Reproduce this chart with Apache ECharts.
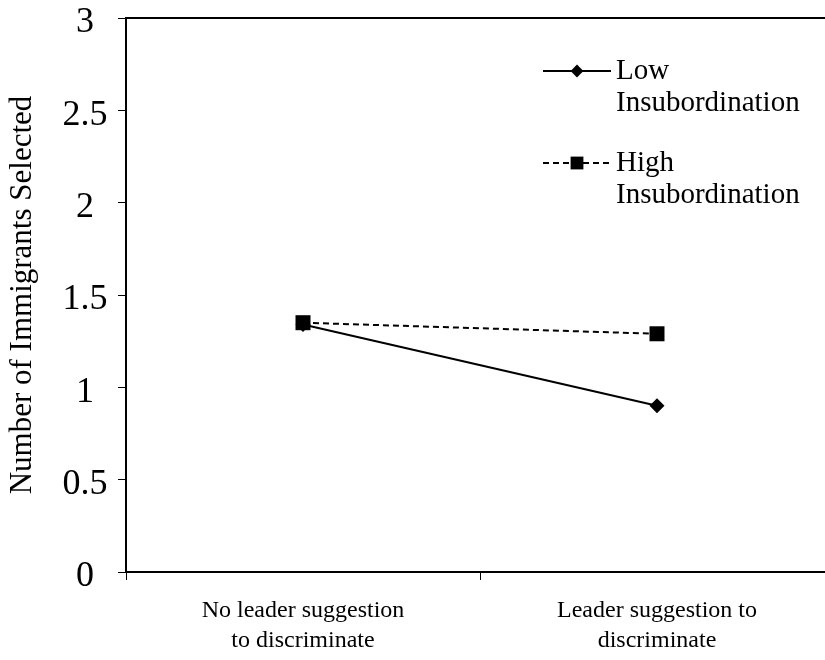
<!DOCTYPE html>
<html>
<head>
<meta charset="utf-8">
<script src="https://cdn.jsdelivr.net/npm/echarts@6/dist/echarts.min.js"></script>
<style>
  html, body { margin: 0; padding: 0; background: #fff; }
  #chart { width: 825px; height: 660px; }
</style>
</head>
<body>
<div id="chart"></div>
<script>
var categories = ['No leader suggestion\nto discriminate', 'Leader suggestion to\ndiscriminate'];
var lowName = 'Low\nInsubordination';
var highName = 'High\nInsubordination';
var lowValues = [1.34, 0.90];
var highValues = [1.35, 1.29];

var font = "'Liberation Serif', 'Times New Roman', serif";
var myChart = echarts.init(document.getElementById('chart'));

var option = {
    backgroundColor: '#fff',
    animation: false,
    grid: {
        left: 126,
        top: 18,
        bottom: 88,
        right: -9,
        outerBoundsMode: 'none',
        containLabel: false,
        show: true,
        borderColor: '#000',
        borderWidth: 2
    },
    legend: {
        orient: 'vertical',
        left: 542,
        top: 23,
        padding: 0,
        itemWidth: 68,
        itemHeight: 16,
        itemGap: -4,
        // blank first line so the icon sits beside the first text line
        formatter: function (name) {
            return '\u00a0\n' + name;
        },
        textStyle: {
            fontFamily: font,
            fontSize: 29,
            color: '#000',
            lineHeight: 32
        },
        data: [lowName, highName]
    },
    xAxis: {
        type: 'category',
        data: categories,
        boundaryGap: true,
        axisLine: { lineStyle: { color: '#000', width: 2 } },
        axisTick: { show: true, length: 8, lineStyle: { color: '#000', width: 1 } },
        axisLabel: {
            fontFamily: font,
            fontSize: 24,
            color: '#000',
            lineHeight: 30,
            margin: 24
        }
    },
    yAxis: {
        type: 'value',
        min: 0,
        max: 3,
        interval: 0.5,
        name: 'Number of Immigrants Selected',
        nameLocation: 'middle',
        nameGap: 88,
        nameTextStyle: { fontFamily: font, fontSize: 31, color: '#000' },
        splitLine: { show: false },
        axisLine: { show: true, lineStyle: { color: '#000', width: 2 } },
        axisTick: { show: true, length: 8, lineStyle: { color: '#000', width: 1 } },
        axisLabel: {
            color: '#000',
            margin: 41,
            align: 'center',
            formatter: function (v) {
                return '{v|' + v + '}';
            },
            rich: {
                v: { fontFamily: font, fontSize: 36, color: '#000', padding: [10, 0, 0, 0] }
            }
        }
    },
    series: [
        {
            name: lowName,
            type: 'line',
            data: lowValues,
            symbol: 'diamond',
            symbolSize: 15,
            itemStyle: { color: '#000' },
            lineStyle: { color: '#000', width: 2, type: 'solid' }
        },
        {
            name: highName,
            type: 'line',
            data: highValues,
            symbol: 'rect',
            symbolSize: 15,
            itemStyle: { color: '#000' },
            lineStyle: { color: '#000', width: 2, type: [6, 4] }
        }
    ]
};

myChart.setOption(option);
</script>
</body>
</html>
